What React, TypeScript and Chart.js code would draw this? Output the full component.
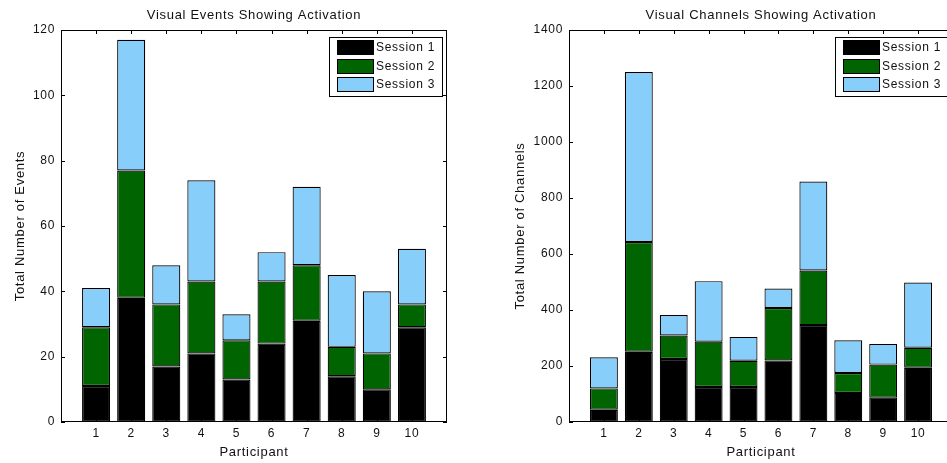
import React, { useEffect, useRef } from 'react';
import { Chart, registerables } from 'chart.js';

Chart.register(...registerables);

// Participants and session series
const participants = [1, 2, 3, 4, 5, 6, 7, 8, 9, 10];
const sessionLabels = ['Session 1', 'Session 2', 'Session 3'];
const sessionColors = ['#000000', '#006400', '#87CEFA'];

// Visual events per session (stacked)
const eventsSession1 = [11, 38, 17, 21, 13, 24, 31, 14, 10, 29];
const eventsSession2 = [18, 39, 19, 22, 12, 19, 17, 9, 11, 7];
const eventsSession3 = [12, 40, 12, 31, 8, 9, 24, 22, 19, 17];

// Visual channels per session (stacked)
const channelsSession1 = [44, 251, 225, 125, 125, 220, 346, 104, 87, 194];
const channelsSession2 = [76, 392, 84, 162, 94, 187, 195, 71, 118, 71];
const channelsSession3 = [111, 607, 73, 216, 85, 70, 318, 117, 74, 233];

// Axis limits
const eventsYMax = 120;
const eventsYStep = 20;
const channelsYMax = 1400;
const channelsYStep = 200;

const FONT = '"Liberation Sans", Arial, Helvetica, sans-serif';
const TEXT = '#111111';

// Slightly widened glyph spacing for all text on the canvas
const spacingPlugin = {
  id: 'spacing',
  beforeDraw(chart: any) {
    (chart.ctx as any).letterSpacing = '0.7px';
  },
  afterDraw(chart: any) {
    (chart.ctx as any).letterSpacing = '0px';
  },
};

// Title centred over the plot box
const plotTitle = {
  id: 'plotTitle',
  afterDraw(chart: any, _args: any, opts: any) {
    const { ctx, chartArea } = chart;
    ctx.save();
    (ctx as any).letterSpacing = '0.7px';
    ctx.font = `13px ${FONT}`;
    ctx.fillStyle = TEXT;
    ctx.textAlign = 'center';
    ctx.textBaseline = 'middle';
    ctx.fillText(opts.text, (chartArea.left + chartArea.right) / 2, 15);
    ctx.restore();
  },
};

// Inward tick marks on all four sides of the plot box
const inwardTicks = {
  id: 'inwardTicks',
  beforeDatasetsDraw(chart: any) {
    const { ctx, chartArea, scales } = chart;
    const { left, right, top, bottom } = chartArea;
    const len = 4;
    ctx.save();
    ctx.strokeStyle = '#000';
    ctx.lineWidth = 1;
    ctx.beginPath();
    scales.x.ticks.forEach((t: any) => {
      const px = Math.round(scales.x.getPixelForValue(t.value)) + 0.5;
      ctx.moveTo(px, top);
      ctx.lineTo(px, top + len);
      ctx.moveTo(px, bottom);
      ctx.lineTo(px, bottom - len);
    });
    scales.y.ticks.forEach((t: any) => {
      const py = Math.round(scales.y.getPixelForValue(t.value)) + 0.5;
      ctx.moveTo(left, py);
      ctx.lineTo(left + len, py);
      ctx.moveTo(right, py);
      ctx.lineTo(right - len, py);
    });
    ctx.stroke();
    ctx.restore();
  },
};

// Plot frame and boxed legend in the upper right corner
const frameAndLegend = {
  id: 'frameAndLegend',
  afterDatasetsDraw(chart: any) {
    const { ctx, chartArea } = chart;
    const { left, right, top, bottom } = chartArea;
    ctx.save();
    (ctx as any).letterSpacing = '0.7px';
    ctx.strokeStyle = '#000';
    ctx.lineWidth = 1;
    ctx.strokeRect(Math.round(left) + 0.5, Math.round(top) + 0.5, Math.round(right - left) - 1, Math.round(bottom - top) - 1);

    const boxW = 113;
    const boxH = 59;
    const bx = Math.round(right) - 5 - boxW;
    const by = Math.round(top) + 7;
    ctx.fillStyle = '#ffffff';
    ctx.fillRect(bx, by, boxW, boxH);
    ctx.strokeRect(bx + 0.5, by + 0.5, boxW, boxH);
    ctx.font = `12px ${FONT}`;
    ctx.textBaseline = 'middle';
    ctx.textAlign = 'left';
    chart.data.datasets.forEach((ds: any, i: number) => {
      const ry = by + 3 + Math.round(i * 18.6);
      ctx.fillStyle = ds.backgroundColor;
      ctx.fillRect(bx + 8, ry, 36, 14);
      ctx.strokeStyle = '#000';
      ctx.strokeRect(bx + 8.5, ry + 0.5, 36, 14);
      ctx.fillStyle = TEXT;
      ctx.fillText(ds.label, bx + 47, ry + 8);
    });
    ctx.restore();
  },
};

type PanelProps = {
  left: number;
  width: number;
  title: string;
  yTitle: string;
  yMax: number;
  yStep: number;
  series: number[][];
  yAxisWidth: number;
  yTitlePad: number;
  padRight: number;
};

function StackedPanel(props: PanelProps) {
  const ref = useRef<HTMLCanvasElement>(null);

  useEffect(() => {
    if (!ref.current) return;
    const chart = new Chart(ref.current, {
      type: 'bar',
      data: {
        datasets: props.series.map((vals, i) => ({
          label: sessionLabels[i],
          data: participants.map((p, j) => ({ x: p, y: vals[j] })),
          backgroundColor: sessionColors[i],
          borderColor: '#000000',
          borderWidth: 1.2,
          borderSkipped: false,
          barPercentage: 0.8,
          categoryPercentage: 1.0,
        })),
      },
      options: {
        responsive: false,
        animation: false,
        devicePixelRatio: 1,
        layout: { padding: { left: 0, right: props.padRight, top: 30, bottom: 0 } },
        plugins: {
          legend: { display: false },
          tooltip: { enabled: false },
          title: { display: false },
          plotTitle: { text: props.title },
        },
        scales: {
          x: {
            type: 'linear',
            stacked: true,
            min: 0,
            max: participants.length + 1,
            offset: false,
            grid: { display: false, drawTicks: false },
            border: { display: false },
            afterBuildTicks: (scale: any) => {
              scale.ticks = participants.map((p) => ({ value: p }));
            },
            afterFit: (scale: any) => {
              scale.height = 41;
            },
            ticks: {
              color: TEXT,
              font: { family: FONT, size: 12 },
              padding: 4,
              maxRotation: 0,
              autoSkip: false,
              callback: (v: any) => String(v),
            },
            title: {
              display: true,
              text: 'Participant',
              color: TEXT,
              font: { family: FONT, size: 13 },
              padding: { top: 0, bottom: 3 },
            },
          },
          y: {
            type: 'linear',
            stacked: true,
            min: 0,
            max: props.yMax,
            grid: { display: false, drawTicks: false },
            border: { display: false },
            afterFit: (scale: any) => {
              scale.width = props.yAxisWidth;
            },
            ticks: {
              stepSize: props.yStep,
              color: TEXT,
              font: { family: FONT, size: 12 },
              padding: 6,
              callback: (v: any) => String(v),
            },
            title: {
              display: true,
              text: props.yTitle,
              color: TEXT,
              font: { family: FONT, size: 13 },
              padding: { top: props.yTitlePad, bottom: 0 },
            },
          },
        },
      },
      plugins: [spacingPlugin, inwardTicks, frameAndLegend, plotTitle],
    } as any);
    return () => chart.destroy();
  }, []);

  return (
    <canvas
      ref={ref}
      width={props.width}
      height={463}
      style={{ position: 'absolute', left: props.left, top: 0, width: props.width, height: 463 }}
    />
  );
}

export default function App() {
  return (
    <div
      style={{
        position: 'fixed',
        left: 0,
        top: 0,
        width: 947,
        height: 463,
        overflow: 'hidden',
        background: '#ffffff',
      }}
    >
      <StackedPanel
        left={0}
        width={470}
        title="Visual Events Showing Activation"
        yTitle="Total Number of Events"
        yMax={eventsYMax}
        yStep={eventsYStep}
        series={[eventsSession1, eventsSession2, eventsSession3]}
        yAxisWidth={61}
        yTitlePad={12.2}
        padRight={23}
      />
      <StackedPanel
        left={477}
        width={500}
        title="Visual Channels Showing Activation"
        yTitle="Total Number of Channels"
        yMax={channelsYMax}
        yStep={channelsYStep}
        series={[channelsSession1, channelsSession2, channelsSession3]}
        yAxisWidth={92}
        yTitlePad={35.2}
        padRight={24}
      />
    </div>
  );
}
